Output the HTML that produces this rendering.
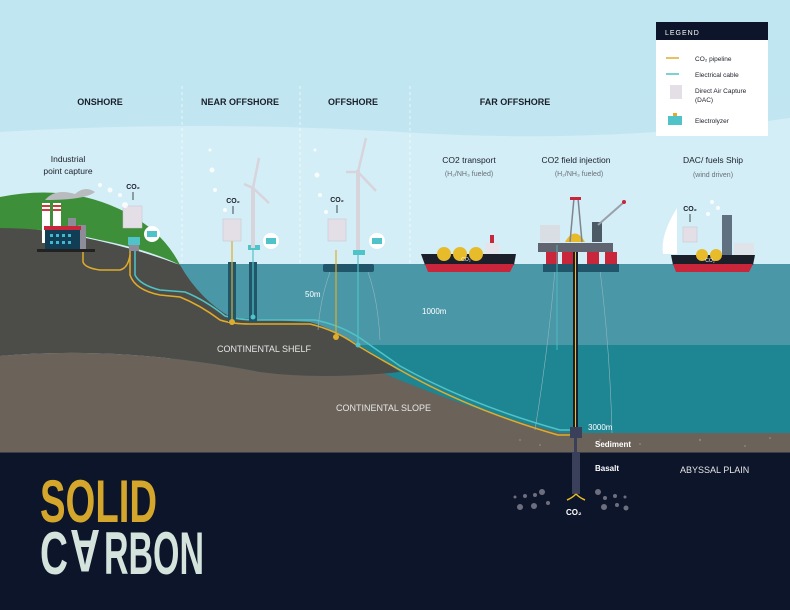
<!DOCTYPE html>
<html><head><meta charset="utf-8"><style>
html,body{margin:0;padding:0;background:#0c1529}
svg{display:block}
text{font-family:"Liberation Sans",sans-serif}
</style></head><body>
<svg width="790" height="610" viewBox="0 0 790 610" xmlns="http://www.w3.org/2000/svg">
<defs>
<linearGradient id="sky" x1="0" y1="0" x2="0" y2="1"><stop offset="0" stop-color="#c0e6f2"/><stop offset="1" stop-color="#c4e8f3"/></linearGradient>
</defs>
<rect width="790" height="610" fill="url(#sky)"/>
<path d="M0 132 Q200 120 400 132 Q600 145 790 118 L790 270 L0 270Z" fill="#d3eef6"/>
<g stroke="#fff" stroke-width="0.8" stroke-dasharray="3,3" opacity="0.8">
<line x1="182" y1="86" x2="182" y2="262"/>
<line x1="300" y1="86" x2="300" y2="315"/>
<line x1="410" y1="86" x2="410" y2="360"/>
</g>
<rect x="170" y="264" width="620" height="172" fill="#4a97a8"/>
<rect x="170" y="345" width="620" height="91" fill="#1e8593"/>
<path d="M0 356 Q120 345 260 372 L380 372 Q470 410 560 433 L790 433 L790 453 L0 453Z" fill="#6b6259"/>
<path d="M0 225 Q100 235 180 265 Q200 300 232 318 L310 322 Q340 330 400 372 Q320 380 260 372 Q120 345 0 356Z" fill="#4c4d48"/>
<path d="M0 197 Q60 185 110 205 Q160 225 180 265 Q150 250 100 240 Q50 228 0 228Z" fill="#3e8f3a"/>
<g fill="#8a8178"><circle cx="520" cy="440" r="1"/><circle cx="540" cy="445" r="1"/><circle cx="600" cy="440" r="1"/><circle cx="640" cy="444" r="1"/><circle cx="700" cy="440" r="1.2"/><circle cx="745" cy="446" r="1"/><circle cx="770" cy="438" r="1"/></g>
<rect y="452" width="790" height="158" fill="#0c1529"/>
<line x1="0" y1="452.5" x2="790" y2="452.5" stroke="#3a3f48" stroke-width="1"/>
<path d="M135 245 L135 275 Q140 285 160 290 L185 292 Q205 300 225 316 Q240 320 255 320 L315 320 Q340 325 360 338 Q380 352 400 366 Q470 405 560 430 L575 430" fill="none" stroke="#4fc3c7" stroke-width="1.5"/>
<path d="M130 245 L130 275 Q135 290 160 295 L180 297 Q200 305 220 320 Q232 324 250 324 L310 324 Q335 330 355 344 Q378 358 400 370 Q470 410 558 435 L575 435" fill="none" stroke="#e0ac2b" stroke-width="1.5"/>
<path d="M83 248 L83 262 Q85 268 100 270 L120 270 Q128 268 130 255" fill="none" stroke="#e0ac2b" stroke-width="1.5"/>
<rect x="228" y="262" width="8" height="60" fill="#21566a"/><rect x="249" y="262" width="8" height="60" fill="#21566a"/>
<line x1="232" y1="240" x2="232" y2="322" stroke="#e0ac2b" stroke-width="1.2"/>
<line x1="253" y1="240" x2="253" y2="318" stroke="#4fc3c7" stroke-width="1.2"/>
<circle cx="232" cy="322" r="3" fill="#e0ac2b"/><circle cx="253" cy="317" r="2.5" fill="#4fc3c7"/>
<rect x="323" y="264" width="51" height="8" rx="2" fill="#21566a"/>
<line x1="336" y1="250" x2="336" y2="337" stroke="#e0ac2b" stroke-width="1.2"/>
<line x1="358" y1="250" x2="358" y2="345" stroke="#4fc3c7" stroke-width="1.2"/>
<circle cx="336" cy="337" r="3" fill="#e0ac2b"/><circle cx="358" cy="345" r="2.5" fill="#4fc3c7"/>
<g stroke="#8fb7c0" stroke-width="0.6" fill="none"><path d="M330 272 Q320 300 318 330"/><path d="M368 272 Q378 300 380 340"/><path d="M555 270 Q548 350 535 430"/><path d="M600 270 Q610 350 612 433"/></g>
<path d="M45 200 Q55 188 75 194 Q85 185 95 192 Q85 200 45 200Z" fill="#b8bcbe"/>
<rect x="42" y="203" width="8" height="40" fill="#fff"/><rect x="53" y="203" width="8" height="40" fill="#fff"/>
<rect x="42" y="205" width="8" height="2" fill="#d03a3a"/><rect x="53" y="205" width="8" height="2" fill="#d03a3a"/>
<rect x="42" y="209" width="8" height="2" fill="#d03a3a"/><rect x="53" y="209" width="8" height="2" fill="#d03a3a"/>
<rect x="68" y="218" width="8" height="30" fill="#8f8c99"/><rect x="78" y="225" width="8" height="25" fill="#8f8c99"/>
<rect x="45" y="229" width="35" height="21" fill="#123e55"/><rect x="44" y="226" width="37" height="4" fill="#c9263b"/>
<g fill="#46b5d0"><rect x="50" y="234" width="3" height="3"/><rect x="56" y="234" width="3" height="3"/><rect x="62" y="234" width="3" height="3"/><rect x="68" y="234" width="3" height="3"/><rect x="50" y="241" width="3" height="3"/><rect x="56" y="241" width="3" height="3"/><rect x="62" y="241" width="3" height="3"/><rect x="68" y="241" width="3" height="3"/></g>
<rect x="37" y="249" width="58" height="3" fill="#222"/>
<g fill="#e4dfe7" stroke="#c7c1cc" stroke-width="0.5">
<rect x="123" y="206" width="19" height="22"/><rect x="223" y="219" width="18" height="22"/><rect x="328" y="219" width="18" height="22"/><rect x="683" y="227" width="14" height="15"/>
</g>
<rect x="128" y="237" width="12" height="8" fill="#4fc3c7"/><rect x="129" y="245" width="10" height="6" fill="#8f8c99"/>
<rect x="248" y="245" width="12" height="5" fill="#4fc3c7"/><rect x="353" y="250" width="12" height="5" fill="#4fc3c7"/>
<g stroke="#d8d4dc" fill="#d8d4dc">
<rect x="251" y="188" width="4" height="60" stroke="none"/>
<path d="M253 188 L259 158 M253 188 L269 203 M253 188 L244 184" stroke-width="2.5"/>
<rect x="356" y="170" width="4" height="80" stroke="none"/>
<path d="M358 172 L366 138 M358 172 L376 191 M358 172 L346 172" stroke-width="2.5"/>
</g>
<g fill="#fff"><circle cx="152" cy="234" r="8"/><circle cx="271" cy="241" r="8"/><circle cx="377" cy="241" r="8"/></g>
<g fill="#4fc3c7"><rect x="147" y="231" width="10" height="6"/><rect x="266" y="238" width="10" height="6"/><rect x="372" y="238" width="10" height="6"/></g>
<g fill="#fff" opacity="0.85">
<circle cx="100" cy="185" r="2"/><circle cx="110" cy="190" r="2.5"/><circle cx="120" cy="195" r="2"/><circle cx="125" cy="205" r="3"/><circle cx="210" cy="150" r="1.5"/><circle cx="212" cy="170" r="2.5"/><circle cx="215" cy="190" r="2"/><circle cx="225" cy="210" r="2"/><circle cx="315" cy="150" r="1.5"/><circle cx="317" cy="175" r="2.5"/><circle cx="320" cy="195" r="2"/><circle cx="326" cy="212" r="2"/><circle cx="712" cy="202" r="2"/><circle cx="718" cy="208" r="2"/><circle cx="708" cy="214" r="2"/>
</g>
<g font-size="7" fill="#1b1f2a" font-weight="bold" text-anchor="middle">
<text x="133" y="189">CO₂</text><text x="233" y="203">CO₂</text><text x="337" y="202">CO₂</text><text x="690" y="211">CO₂</text>
</g>
<g stroke="#1b1f2a" stroke-width="0.8"><line x1="133" y1="192" x2="133" y2="200"/><line x1="233" y1="206" x2="233" y2="214"/><line x1="337" y1="205" x2="337" y2="213"/><line x1="690" y1="214" x2="690" y2="222"/></g>
<path d="M421 254 L516 254 L514 265 L425 265Z" fill="#1b1f2a"/>
<path d="M425 264 L514 264 L510 272 L428 272Z" fill="#c9263b"/>
<g fill="#e8bb2a"><circle cx="444" cy="254" r="7"/><circle cx="460" cy="254" r="7"/><circle cx="476" cy="254" r="7"/></g>
<rect x="485" y="243" width="14" height="11" fill="#e4e4ea"/><rect x="490" y="235" width="4" height="8" fill="#c9263b"/>
<text x="466" y="261" font-size="5" fill="#fff" text-anchor="middle">CO₂</text>
<rect x="543" y="264" width="76" height="8" fill="#21566a"/>
<rect x="546" y="252" width="12" height="12" fill="#c9263b"/><rect x="562" y="252" width="12" height="12" fill="#c9263b"/><rect x="587" y="252" width="12" height="12" fill="#c9263b"/><rect x="605" y="252" width="12" height="12" fill="#c9263b"/>
<rect x="538" y="243" width="75" height="9" fill="#5f6470"/>
<rect x="540" y="225" width="20" height="17" fill="#d9dde4"/>
<path d="M565 242 Q575 225 585 242Z" fill="#e8bb2a"/>
<path d="M570 242 L574 198 L578 198 L582 242" fill="none" stroke="#7f8490" stroke-width="1.5"/>
<rect x="570" y="197" width="11" height="3" fill="#c9263b"/>
<rect x="592" y="222" width="10" height="20" fill="#4c5a66"/>
<path d="M598 225 L623 203" stroke="#9aa0aa" stroke-width="2"/><circle cx="624" cy="202" r="2" fill="#c9263b"/>
<rect x="573" y="252" width="5" height="180" fill="#1b1f2a"/><line x1="575.5" y1="252" x2="575.5" y2="430" stroke="#e8bb2a" stroke-width="1"/>
<line x1="557" y1="245" x2="557" y2="350" stroke="#4fc3c7" stroke-width="0.8"/>
<rect x="570" y="427" width="12" height="11" fill="#3a3f5a"/><rect x="572" y="452" width="8" height="42" fill="#3a3f5a"/>
<rect x="574" y="438" width="3" height="14" fill="#3a3f5a"/>
<path d="M576 494 Q572 498 567 500 M576 494 Q580 498 585 500" stroke="#e8bb2a" stroke-width="1.5" fill="none"/>
<g fill="#6e6f7e"><circle cx="542" cy="492" r="3"/><circle cx="535" cy="495" r="2"/><circle cx="525" cy="496" r="2"/><circle cx="515" cy="497" r="1.5"/><circle cx="520" cy="507" r="3"/><circle cx="534" cy="506" r="3"/><circle cx="548" cy="503" r="2"/><circle cx="598" cy="492" r="3"/><circle cx="605" cy="498" r="2"/><circle cx="615" cy="496" r="2"/><circle cx="625" cy="497" r="1.5"/><circle cx="604" cy="507" r="3"/><circle cx="617" cy="505" r="2"/><circle cx="626" cy="508" r="2.5"/></g>
<path d="M671 255 L755 255 L753 265 L673 265Z" fill="#1b1f2a"/>
<path d="M673 264 L753 264 L749 272 L676 272Z" fill="#c9263b"/>
<path d="M677 208 Q660 235 663 254 L677 254Z" fill="#fff"/>
<g fill="#e8bb2a"><circle cx="702" cy="255" r="6"/><circle cx="716" cy="255" r="6"/></g>
<rect x="722" y="215" width="10" height="40" fill="#5f7080"/><rect x="734" y="243" width="20" height="12" fill="#dfe3ea"/>
<text x="710" y="262" font-size="5" fill="#fff" text-anchor="middle">CO₂</text>
<rect x="656" y="22" width="112" height="114" fill="#fff"/>
<rect x="656" y="22" width="112" height="18" fill="#0c1529"/>
<text x="665" y="35" font-size="7" fill="#fff" letter-spacing="1">LEGEND</text>
<line x1="666" y1="58" x2="679" y2="58" stroke="#e0ac2b" stroke-width="1.5"/>
<line x1="666" y1="74" x2="679" y2="74" stroke="#4fc3c7" stroke-width="1.5"/>
<rect x="670" y="85" width="12" height="14" fill="#e4dfe7"/>
<rect x="668" y="116" width="14" height="9" fill="#4fc3c7"/><rect x="673" y="113" width="4" height="3" fill="#e0ac2b"/>
<g font-size="6.5" fill="#1b1f2a"><text x="695" y="61">CO₂ pipeline</text><text x="695" y="77">Electrical cable</text><text x="695" y="93">Direct Air Capture</text><text x="695" y="102">(DAC)</text><text x="695" y="123">Electrolyzer</text></g>
<g font-size="9" font-weight="bold" fill="#1b1f2a" text-anchor="middle">
<text x="100" y="105">ONSHORE</text><text x="240" y="105">NEAR OFFSHORE</text><text x="353" y="105">OFFSHORE</text><text x="515" y="105">FAR OFFSHORE</text>
</g>
<g font-size="8.5" fill="#1b1f2a" text-anchor="middle">
<text x="68" y="162">Industrial</text><text x="68" y="174">point capture</text>
<text x="469" y="163">CO2 transport</text><text x="576" y="163">CO2 field injection</text><text x="713" y="163">DAC/ fuels Ship</text>
</g>
<g font-size="7" fill="#6a7078" text-anchor="middle"><text x="469" y="176">(H₂/NH₃ fueled)</text><text x="579" y="176">(H₂/NH₃ fueled)</text><text x="713" y="177">(wind driven)</text></g>
<g font-size="8" fill="#fff"><text x="305" y="297">50m</text><text x="422" y="314">1000m</text><text x="588" y="430">3000m</text><text x="595" y="447" font-weight="bold">Sediment</text><text x="595" y="471" font-weight="bold">Basalt</text><text x="566" y="515" font-weight="bold">CO₂</text></g>
<g font-size="9" fill="#e6e6e6"><text x="217" y="352">CONTINENTAL SHELF</text><text x="336" y="411">CONTINENTAL SLOPE</text><text x="680" y="473">ABYSSAL PLAIN</text></g>
<g font-weight="bold">
<text x="40" y="522" font-size="60" fill="#d4a72c" textLength="117" lengthAdjust="spacingAndGlyphs">SOLID</text>
<text x="40" y="574" font-size="60" fill="#d5e3dd" textLength="28" lengthAdjust="spacingAndGlyphs">C</text>
<text transform="translate(100,530) rotate(180)" font-size="60" fill="#d5e3dd" textLength="30" lengthAdjust="spacingAndGlyphs">A</text>
<text x="104" y="574" font-size="60" fill="#d5e3dd" textLength="100" lengthAdjust="spacingAndGlyphs">RBON</text>
</g>
</svg>
</body></html>
